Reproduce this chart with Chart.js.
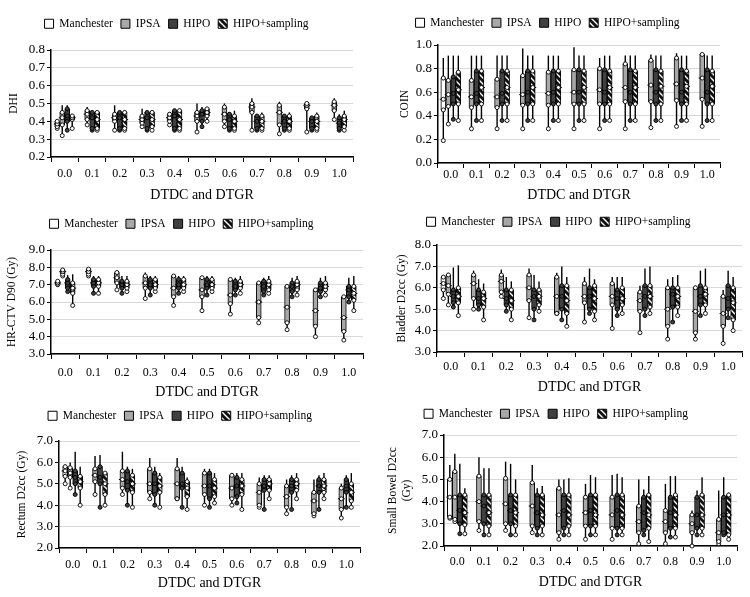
<!DOCTYPE html>
<html>
<head>
<meta charset="utf-8">
<script src="https://cdn.jsdelivr.net/npm/chart.js@4.4.1/dist/chart.umd.min.js"></script>
<style>
  html, body { margin: 0; padding: 0; background: #fff; }
  #wrap { position: relative; width: 750px; height: 597px; overflow: hidden; }
  .panel { position: absolute; }
</style>
</head>
<body>
<div id="wrap">
  <div class="panel" style="left:0;top:0"><canvas id="c-dhi" width="375" height="200"></canvas></div>
  <div class="panel" style="left:375px;top:0"><canvas id="c-coin" width="375" height="200"></canvas></div>
  <div class="panel" style="left:0;top:200px"><canvas id="c-ctv" width="375" height="200"></canvas></div>
  <div class="panel" style="left:375px;top:200px"><canvas id="c-bladder" width="375" height="200"></canvas></div>
  <div class="panel" style="left:0;top:400px"><canvas id="c-rectum" width="375" height="197"></canvas></div>
  <div class="panel" style="left:375px;top:400px"><canvas id="c-bowel" width="375" height="197"></canvas></div>
</div>
<script>
// each box = [min, q1, median, q3, max]; Manchester only exists at 0.0
const categories = ['0.0', '0.1', '0.2', '0.3', '0.4', '0.5', '0.6', '0.7', '0.8', '0.9', '1.0'];
const seriesNames = ['Manchester', 'IPSA', 'HIPO', 'HIPO+sampling'];
const N = null;

// ── DHI ──
const dhiManchester = [[0.36, 0.37, 0.385, 0.40, 0.41], N, N, N, N, N, N, N, N, N, N];
const dhiIpsa = [
  [0.32, 0.38, 0.42, 0.45, 0.49], [0.38, 0.41, 0.44, 0.46, 0.48], [0.35, 0.40, 0.42, 0.44, 0.49],
  [0.37, 0.39, 0.41, 0.43, 0.47], [0.38, 0.40, 0.42, 0.44, 0.45], [0.34, 0.40, 0.43, 0.45, 0.50],
  [0.37, 0.40, 0.44, 0.48, 0.50], [0.35, 0.45, 0.48, 0.50, 0.53], [0.33, 0.38, 0.45, 0.49, 0.51],
  [0.34, 0.47, 0.49, 0.50, 0.50], [0.41, 0.46, 0.49, 0.51, 0.53],
];
const dhiHipo = [
  [0.35, 0.40, 0.43, 0.47, 0.49], [0.35, 0.36, 0.42, 0.45, 0.46], [0.35, 0.36, 0.42, 0.45, 0.46],
  [0.35, 0.36, 0.42, 0.45, 0.46], [0.35, 0.36, 0.43, 0.46, 0.47], [0.37, 0.40, 0.44, 0.46, 0.48],
  [0.35, 0.36, 0.41, 0.44, 0.45], [0.35, 0.36, 0.40, 0.43, 0.44], [0.35, 0.36, 0.40, 0.43, 0.44],
  [0.35, 0.36, 0.40, 0.42, 0.43], [0.35, 0.36, 0.39, 0.42, 0.44],
];
const dhiHipoSampling = [
  [0.36, 0.41, 0.42, 0.43, 0.44], [0.35, 0.36, 0.41, 0.45, 0.46], [0.35, 0.36, 0.41, 0.45, 0.46],
  [0.35, 0.37, 0.41, 0.45, 0.46], [0.35, 0.36, 0.41, 0.46, 0.47], [0.40, 0.43, 0.45, 0.47, 0.48],
  [0.35, 0.36, 0.40, 0.43, 0.46], [0.35, 0.36, 0.40, 0.43, 0.45], [0.35, 0.36, 0.40, 0.43, 0.45],
  [0.35, 0.36, 0.40, 0.43, 0.45], [0.35, 0.37, 0.41, 0.43, 0.46],
];

// ── COIN ──
const coinManchester = [[0.19, 0.45, 0.54, 0.72, 0.89], N, N, N, N, N, N, N, N, N, N];
const coinIpsa = [
  [0.33, 0.48, 0.58, 0.70, 0.91], [0.29, 0.47, 0.56, 0.70, 0.91], [0.29, 0.47, 0.56, 0.71, 0.91],
  [0.29, 0.49, 0.58, 0.74, 0.97], [0.29, 0.49, 0.59, 0.77, 0.91], [0.29, 0.50, 0.60, 0.79, 0.98],
  [0.29, 0.50, 0.62, 0.80, 0.89], [0.29, 0.52, 0.64, 0.84, 0.91], [0.30, 0.52, 0.66, 0.87, 0.92],
  [0.31, 0.53, 0.67, 0.89, 0.93], [0.31, 0.54, 0.72, 0.92, 0.93],
];
const coinHipo = [
  [0.37, 0.50, 0.59, 0.73, 0.91], [0.36, 0.50, 0.59, 0.78, 0.91], [0.36, 0.50, 0.59, 0.78, 0.91],
  [0.36, 0.50, 0.60, 0.78, 0.91], [0.36, 0.50, 0.60, 0.78, 0.91], [0.36, 0.50, 0.60, 0.79, 0.91],
  [0.36, 0.50, 0.60, 0.79, 0.91], [0.36, 0.50, 0.60, 0.79, 0.91], [0.36, 0.50, 0.60, 0.79, 0.91],
  [0.36, 0.50, 0.60, 0.79, 0.91], [0.36, 0.50, 0.60, 0.79, 0.91],
];
const coinHipoSampling = [
  [0.36, 0.50, 0.62, 0.77, 0.91], [0.36, 0.50, 0.64, 0.78, 0.91], [0.36, 0.50, 0.64, 0.78, 0.91],
  [0.36, 0.50, 0.64, 0.78, 0.91], [0.36, 0.50, 0.64, 0.78, 0.91], [0.36, 0.50, 0.64, 0.78, 0.91],
  [0.36, 0.50, 0.64, 0.78, 0.91], [0.36, 0.50, 0.64, 0.78, 0.91], [0.36, 0.50, 0.65, 0.78, 0.91],
  [0.36, 0.50, 0.65, 0.78, 0.91], [0.36, 0.50, 0.65, 0.78, 0.91],
];

// ── HR-CTV D90 ──
const ctvManchester = [[7.0, 7.02, 7.1, 7.2, 7.25], N, N, N, N, N, N, N, N, N, N];
const ctvIpsa = [
  [7.5, 7.6, 7.75, 7.85, 7.95], [7.5, 7.6, 7.75, 7.9, 7.95], [6.7, 7.1, 7.4, 7.7, 7.8],
  [6.2, 6.8, 7.1, 7.5, 7.7], [5.8, 6.3, 6.8, 7.5, 7.6], [5.5, 6.3, 6.7, 7.4, 7.5],
  [5.3, 5.9, 6.4, 7.3, 7.4], [4.8, 5.1, 6.0, 7.1, 7.2], [4.4, 4.8, 5.7, 6.9, 7.0],
  [4.0, 4.6, 5.5, 6.7, 6.7], [3.8, 4.3, 5.1, 6.3, 6.3],
];
const ctvHipo = [
  [6.6, 6.8, 7.1, 7.3, 7.55], [6.5, 6.9, 7.1, 7.3, 7.5], [6.5, 6.8, 7.0, 7.2, 7.5],
  [6.4, 6.8, 7.0, 7.3, 7.5], [6.5, 6.8, 7.0, 7.3, 7.5], [6.4, 6.8, 7.0, 7.3, 7.5],
  [6.4, 6.7, 6.9, 7.2, 7.4], [6.4, 6.6, 6.9, 7.2, 7.4], [6.3, 6.6, 6.9, 7.1, 7.4],
  [6.3, 6.6, 6.8, 7.1, 7.4], [6.0, 6.3, 6.7, 6.9, 7.4],
];
const ctvHipoSampling = [
  [5.8, 6.5, 6.8, 7.1, 7.6], [6.5, 6.9, 7.1, 7.3, 7.5], [6.6, 6.8, 7.0, 7.2, 7.5],
  [6.6, 6.8, 7.0, 7.3, 7.5], [6.6, 6.8, 7.0, 7.3, 7.5], [6.6, 6.8, 7.0, 7.3, 7.5],
  [6.5, 6.8, 7.0, 7.2, 7.5], [6.5, 6.7, 7.0, 7.2, 7.5], [6.4, 6.7, 7.0, 7.2, 7.5],
  [6.4, 6.7, 6.9, 7.1, 7.5], [5.5, 6.1, 6.5, 6.9, 7.5],
];

// ── Bladder D2cc ──
const bladderManchester = [[5.5, 5.9, 6.2, 6.5, 6.6], N, N, N, N, N, N, N, N, N, N];
const bladderIpsa = [
  [5.2, 5.7, 6.1, 6.6, 6.7], [5.0, 5.5, 6.2, 6.6, 6.8], [5.6, 5.8, 6.3, 6.6, 6.85],
  [4.6, 5.4, 6.0, 6.6, 6.9], [4.8, 4.8, 5.6, 6.5, 6.7], [4.4, 5.3, 5.6, 6.2, 6.5],
  [4.1, 5.2, 5.6, 6.2, 6.5], [3.9, 4.9, 5.4, 5.8, 6.1], [3.6, 4.2, 5.0, 6.0, 6.4],
  [3.6, 3.9, 4.9, 6.0, 6.1], [3.4, 4.2, 4.8, 5.6, 5.9],
];
const bladderHipo = [
  [5.1, 5.3, 5.6, 5.9, 6.95], [5.0, 5.2, 5.5, 5.9, 6.4], [4.9, 5.2, 5.5, 5.9, 6.5],
  [4.5, 5.0, 5.6, 5.9, 6.6], [4.5, 5.0, 5.6, 6.1, 7.0], [4.8, 5.0, 5.6, 6.0, 6.9],
  [4.7, 5.0, 5.5, 5.9, 6.5], [4.7, 5.0, 5.6, 6.1, 6.9], [4.4, 5.1, 5.7, 6.0, 6.5],
  [4.7, 5.2, 5.6, 6.1, 6.8], [4.6, 5.0, 5.5, 6.1, 6.8],
];
const bladderHipoSampling = [
  [4.7, 5.3, 5.6, 6.0, 7.05], [4.5, 5.1, 5.5, 5.8, 6.2], [4.5, 5.0, 5.4, 5.9, 6.3],
  [4.9, 5.2, 5.6, 5.9, 6.3], [4.2, 4.8, 5.4, 6.1, 6.5], [4.5, 4.9, 5.5, 6.1, 6.4],
  [4.8, 5.2, 5.5, 6.0, 6.5], [4.8, 5.1, 5.6, 6.1, 7.0], [4.7, 5.1, 5.6, 6.0, 6.6],
  [4.8, 5.2, 5.7, 6.0, 6.9], [4.0, 4.5, 5.3, 6.0, 6.5],
];

// ── Rectum D2cc ──
const rectumManchester = [[5.0, 5.35, 5.6, 5.8, 5.9], N, N, N, N, N, N, N, N, N, N];
const rectumIpsa = [
  [4.8, 5.3, 5.5, 5.75, 6.0], [4.5, 5.1, 5.4, 5.7, 6.3], [4.5, 4.8, 5.2, 5.6, 6.5],
  [4.3, 4.6, 5.0, 5.7, 6.2], [4.3, 4.3, 5.0, 5.7, 6.2], [4.0, 4.5, 4.9, 5.5, 5.7],
  [4.0, 4.3, 4.8, 5.4, 5.5], [3.9, 4.0, 4.6, 5.0, 5.3], [3.6, 3.9, 4.4, 4.9, 5.2],
  [3.5, 3.6, 4.2, 4.6, 5.2], [3.4, 3.8, 4.3, 4.8, 5.0],
];
const rectumHipo = [
  [4.5, 5.0, 5.3, 5.6, 6.5], [3.9, 5.0, 5.3, 5.8, 6.35], [4.0, 4.7, 5.1, 5.6, 5.8],
  [4.0, 4.5, 5.0, 5.5, 5.8], [3.9, 4.8, 5.0, 5.5, 5.8], [3.9, 4.3, 4.9, 5.5, 5.7],
  [4.1, 4.4, 4.9, 5.3, 5.5], [3.8, 4.7, 4.9, 5.2, 5.4], [3.8, 4.6, 4.9, 5.2, 5.4],
  [3.8, 4.6, 4.9, 5.2, 5.4], [3.9, 4.6, 4.9, 5.2, 5.4],
];
const rectumHipoSampling = [
  [4.0, 4.8, 5.1, 5.35, 5.8], [4.0, 4.5, 5.0, 5.5, 5.5], [3.9, 4.6, 5.0, 5.4, 5.7],
  [3.9, 4.6, 4.9, 5.3, 5.5], [3.8, 4.4, 4.8, 5.1, 5.3], [4.1, 4.4, 4.8, 5.2, 5.5],
  [3.8, 4.5, 4.9, 5.2, 5.5], [4.3, 4.7, 5.0, 5.2, 5.4], [4.3, 4.7, 5.0, 5.2, 5.5],
  [4.3, 4.6, 4.9, 5.2, 5.5], [3.9, 4.2, 4.6, 5.0, 5.5],
];

// ── Small Bowel D2cc ──
const bowelManchester = [[3.25, 3.3, 4.2, 5.0, 5.65], N, N, N, N, N, N, N, N, N, N];
const bowelIpsa = [
  [3.1, 3.2, 4.2, 5.35, 6.15], [2.7, 3.1, 4.0, 5.15, 6.0], [2.7, 3.0, 3.9, 5.05, 5.8],
  [2.6, 2.9, 3.8, 4.85, 5.65], [2.3, 2.6, 3.4, 4.6, 5.0], [2.3, 2.9, 3.5, 4.2, 4.8],
  [2.3, 2.8, 3.4, 4.2, 5.2], [2.1, 2.6, 3.1, 3.8, 5.0], [2.1, 2.6, 3.1, 3.6, 4.8],
  [2.0, 2.6, 3.0, 3.4, 3.6], [2.1, 2.2, 2.6, 3.2, 4.5],
];
const bowelHipo = [
  [2.55, 3.0, 3.6, 4.3, 5.7], [2.5, 3.0, 3.8, 4.3, 5.5], [2.5, 3.0, 3.6, 4.3, 5.7],
  [2.5, 2.8, 3.5, 4.3, 4.6], [2.5, 2.8, 3.6, 4.3, 5.0], [2.5, 2.9, 3.6, 4.3, 5.2],
  [2.5, 2.8, 3.6, 4.3, 5.25], [2.5, 2.7, 3.5, 4.2, 4.55], [2.4, 2.8, 3.5, 4.2, 5.15],
  [2.5, 2.8, 3.4, 4.2, 4.5], [2.5, 2.6, 3.4, 4.2, 5.1],
];
const bowelHipoSampling = [
  [2.55, 2.95, 3.5, 4.3, 4.6], [2.5, 2.9, 3.5, 4.3, 5.5], [2.5, 2.9, 3.5, 4.3, 5.0],
  [2.5, 2.9, 3.4, 4.3, 4.7], [2.5, 2.9, 3.4, 4.3, 5.05], [2.5, 2.9, 3.4, 4.3, 5.1],
  [2.5, 2.8, 3.4, 4.3, 5.1], [2.2, 2.8, 3.4, 4.3, 5.15], [2.4, 2.8, 3.4, 4.3, 5.15],
  [2.5, 2.8, 3.4, 4.3, 5.1], [2.3, 2.5, 3.4, 4.3, 4.4],
];

// ── styling ──────────────────────────────────────────────────────────────────
Chart.defaults.font.family = '"Liberation Serif", "Times New Roman", serif';
Chart.defaults.color = '#000';

function hatchPattern() {
  const c = document.createElement('canvas');
  c.width = 6; c.height = 6;
  const g = c.getContext('2d');
  g.fillStyle = '#111';
  g.fillRect(0, 0, 6, 6);
  g.strokeStyle = '#fff';
  g.lineWidth = 1.4;
  g.beginPath();
  g.moveTo(-1, -1); g.lineTo(7, 7);
  g.moveTo(-4, 2); g.lineTo(2, 8);
  g.moveTo(2, -4); g.lineTo(8, 2);
  g.stroke();
  return g.createPattern(c, 'repeat');
}

const boxFills = ['#ffffff', '#a8a8a8', '#404040', hatchPattern()];
const dotFills = ['#ffffff', '#ffffff', '#404040', '#ffffff'];

// whiskers go behind the boxes, medians + points on top
const boxPlot = {
  id: 'boxPlot',
  beforeDatasetsDraw(chart) { drawBoxParts(chart, false); },
  afterDatasetsDraw(chart) { drawBoxParts(chart, true); },
};

function drawBoxParts(chart, front) {
  const { ctx } = chart;
  const y = chart.scales.y;
  chart.data.datasets.forEach((ds, di) => {
    const meta = chart.getDatasetMeta(di);
    ds.stats.forEach((s, i) => {
      if (!s) return;
      const bar = meta.data[i];
      const x = bar.x;
      const hw = bar.width / 2;
      ctx.save();
      ctx.strokeStyle = '#000';
      if (!front) {
        ctx.lineWidth = 1.4;
        ctx.beginPath();
        ctx.moveTo(x, y.getPixelForValue(s[0]));
        ctx.lineTo(x, y.getPixelForValue(s[4]));
        ctx.stroke();
      } else {
        const ym = y.getPixelForValue(s[2]);
        ctx.lineWidth = 1;
        ctx.beginPath();
        ctx.moveTo(x - hw - 1, ym);
        ctx.lineTo(x + hw + 1, ym);
        ctx.stroke();
        ctx.fillStyle = dotFills[di];
        ctx.lineWidth = 0.9;
        [s[0], s[1], s[2], s[3]].forEach((v) => {
          ctx.beginPath();
          ctx.arc(x, y.getPixelForValue(v), 2, 0, Math.PI * 2);
          ctx.fill();
          ctx.stroke();
        });
      }
      ctx.restore();
    });
  });
}

// pin the plot area to where the reference has it
const pinLayout = {
  id: 'pinLayout',
  beforeUpdate(chart, args, opts) {
    const lg = chart.legend;
    if (lg && !lg._pinned) {
      const fit = lg.fit.bind(lg);
      lg.fit = function () { fit(); this.height = opts.legendH; };
      lg._pinned = true;
    }
  },
};

function makePanel(id, series, yRange, yTitle, lay) {
  const [yMin, yMax, yStep] = yRange;
  const canvas = document.getElementById(id);
  return new Chart(canvas, {
    type: 'bar',
    data: {
      labels: categories,
      datasets: series.map((stats, k) => ({
        label: seriesNames[k],
        stats,
        data: stats.map((s) => (s ? [s[1], s[3]] : null)),
        backgroundColor: boxFills[k],
        borderColor: '#000',
        borderWidth: 1,
        borderSkipped: false,
        barThickness: 5,
      })),
    },
    options: {
      responsive: false,
      animation: false,
      skipNull: true,
      layout: { padding: { top: lay.padTop, right: lay.padRight, left: 0, bottom: 0 } },
      plugins: {
        pinLayout: { legendH: lay.legendH },
        tooltip: { enabled: false },
        legend: {
          position: 'top',
          labels: {
            boxWidth: 9,
            boxHeight: 9,
            padding: 8,
            color: '#000',
            font: { size: 11.5 },
          },
        },
      },
      scales: {
        x: {
          afterFit: (s) => { s.height = lay.xH; },
          border: { display: true, color: '#000', width: 1.5 },
          grid: { offset: true, drawOnChartArea: false, drawTicks: true, tickLength: 5, color: '#000', lineWidth: 1 },
          ticks: { padding: lay.xTickPad, font: { size: 12 }, color: '#000', maxRotation: 0, autoSkip: false },
          title: {
            display: true,
            text: 'DTDC and DTGR',
            font: { size: 14, lineHeight: 1 },
            padding: { top: 0, bottom: lay.xTitlePad },
          },
        },
        y: {
          min: yMin,
          max: yMax,
          afterFit: (s) => { s.width = lay.yW; },
          border: { display: true, color: '#000', width: 1.5 },
          grid: { color: '#d9d9d9', lineWidth: 1, tickLength: 4, tickColor: '#000' },
          ticks: {
            stepSize: yStep,
            autoSkip: false,
            maxTicksLimit: 20,
            padding: 2,
            font: { size: 13, lineHeight: 1 },
            color: '#000',
            callback: (v) => Number(v).toFixed(1),
          },
          title: {
            display: true,
            text: yTitle,
            font: { size: 11.5, lineHeight: lay.yTitleLH || 1 },
            padding: { top: lay.yTitlePad, bottom: 0 },
          },
        },
      },
    },
    plugins: [pinLayout, boxPlot],
  });
}

makePanel('c-dhi', [dhiManchester, dhiIpsa, dhiHipo, dhiHipoSampling], [0.2, 0.8, 0.1], 'DHI',
  { padTop: 10, legendH: 40, yW: 51, xH: 43, padRight: 22, xTickPad: 5, xTitlePad: -2, yTitlePad: 8 });
makePanel('c-coin', [coinManchester, coinIpsa, coinHipo, coinHipoSampling], [0, 1.0, 0.2], 'COIN',
  { padTop: 9, legendH: 36, yW: 63, xH: 37, padRight: 30, xTickPad: 0, xTitlePad: -2, yTitlePad: 24 });
makePanel('c-ctv', [ctvManchester, ctvIpsa, ctvHipo, ctvHipoSampling], [3, 9, 1], 'HR-CTV D90 (Gy)',
  { padTop: 10, legendH: 40, yW: 51, xH: 46, padRight: 12, xTickPad: 7, xTitlePad: 1, yTitlePad: 6 });
makePanel('c-bladder', [bladderManchester, bladderIpsa, bladderHipo, bladderHipoSampling], [3, 8, 1], 'Bladder D2cc (Gy)',
  { padTop: 8, legendH: 37, yW: 62, xH: 48, padRight: 8, xTickPad: 3, xTitlePad: 6, yTitlePad: 21 });
makePanel('c-rectum', [rectumManchester, rectumIpsa, rectumHipo, rectumHipoSampling], [2, 7, 1], 'Rectum D2cc (Gy)',
  { padTop: 2, legendH: 39, yW: 59, xH: 49, padRight: 15, xTickPad: 5, xTitlePad: 7, yTitlePad: 16 });
makePanel('c-bowel', [bowelManchester, bowelIpsa, bowelHipo, bowelHipoSampling], [2, 7, 1], ['Small Bowel D2cc', '(Gy)'],
  { padTop: 0, legendH: 35, yW: 69, xH: 51, padRight: 13, xTickPad: 4, xTitlePad: 8, yTitlePad: 10.5, yTitleLH: 1.25 });
</script>
</body>
</html>
